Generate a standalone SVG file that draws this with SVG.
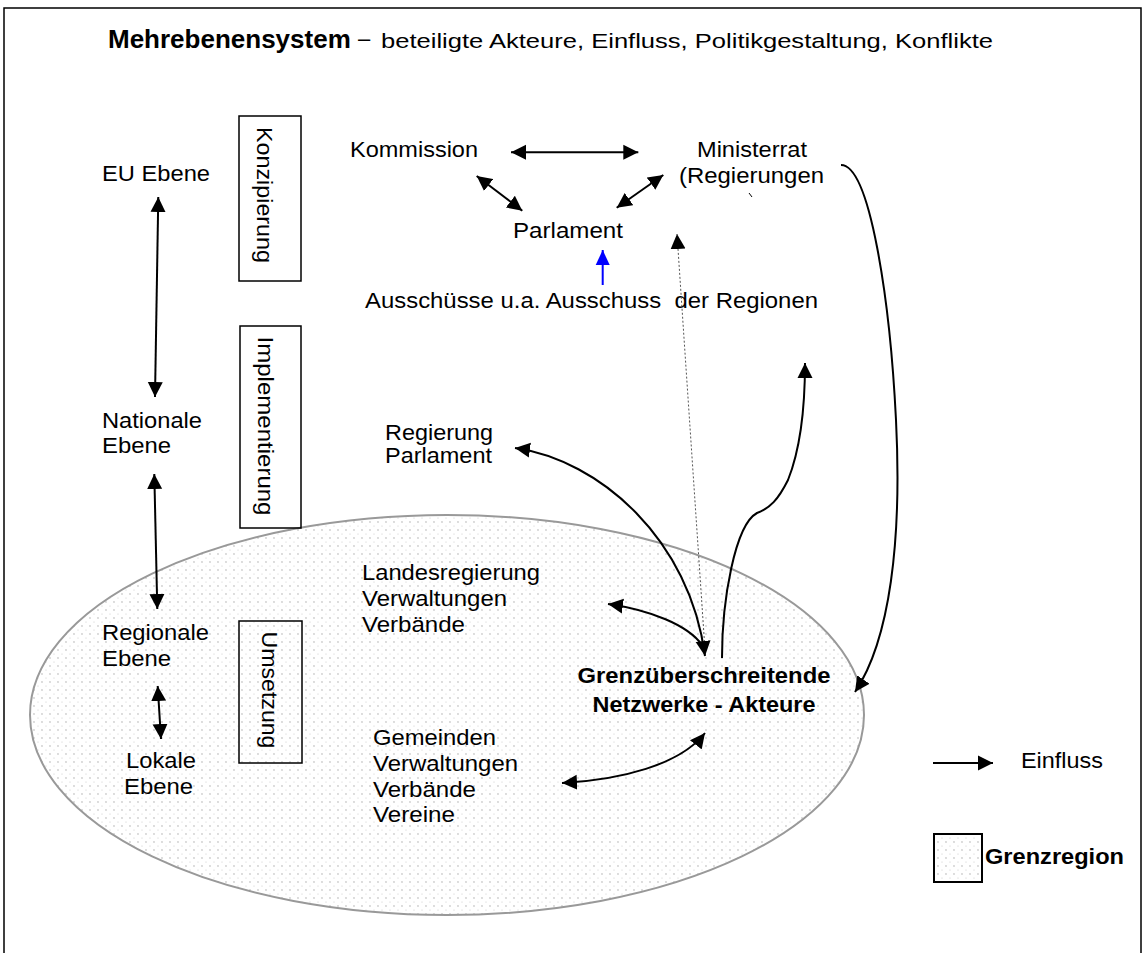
<svg xmlns="http://www.w3.org/2000/svg" width="1145" height="953" viewBox="0 0 1145 953">
<style>
text{font-family:"Liberation Sans",Arial,sans-serif;font-size:22px;fill:#000}
.b{font-weight:bold}
.ln{fill:none;stroke:#000;stroke-width:2}
.box{fill:none;stroke:#000;stroke-width:1.5}
</style>
<defs>
<pattern id="dots" width="8" height="8" patternUnits="userSpaceOnUse">
<rect width="8" height="8" fill="#fff"/>
<circle cx="2" cy="2" r="0.65" fill="#a0a0a0"/>
<circle cx="6" cy="6" r="0.55" fill="#c8c8c8"/>
</pattern>
<marker id="ah" markerUnits="userSpaceOnUse" markerWidth="16" markerHeight="16" refX="15" refY="8" orient="auto-start-reverse" viewBox="0 0 16 16">
<path d="M0,0.5 L15,8 L0,15.5 z" fill="#000"/>
</marker>
<marker id="ahb" markerUnits="userSpaceOnUse" markerWidth="16" markerHeight="16" refX="15" refY="8" orient="auto" viewBox="0 0 16 16">
<path d="M0,1 L15,8 L0,15 z" fill="#0000ff"/>
</marker>
</defs>
<rect width="1145" height="953" fill="#fff"/>
<g id="frame" fill="none" stroke="#000" stroke-width="1.5">
<path d="M4,953 V8 H1141 V953"/>
</g>
<g id="grenzregion"><ellipse cx="447" cy="715" rx="417" ry="200" fill="url(#dots)" stroke="#999" stroke-width="2"/></g>
<g id="title">
<text x="108" y="48" class="b" style="font-size:26px">Mehrebenensystem</text>
<text x="358" y="46" style="font-size:22px">–</text>
<text x="381" y="48" style="font-size:21px" textLength="612" lengthAdjust="spacingAndGlyphs">beteiligte Akteure, Einfluss, Politikgestaltung, Konflikte</text>
</g>
<g id="eu-ebene"><text x="102" y="181" textLength="108" lengthAdjust="spacingAndGlyphs">EU Ebene</text></g>
<g id="nationale-ebene"><text x="102" y="428" textLength="100" lengthAdjust="spacingAndGlyphs">Nationale</text><text x="102" y="453" textLength="69" lengthAdjust="spacingAndGlyphs">Ebene</text></g>
<g id="regionale-ebene"><text x="102" y="640" textLength="107" lengthAdjust="spacingAndGlyphs">Regionale</text><text x="102" y="666" textLength="69" lengthAdjust="spacingAndGlyphs">Ebene</text></g>
<g id="lokale-ebene"><text x="126" y="768" textLength="70" lengthAdjust="spacingAndGlyphs">Lokale</text><text x="124" y="794" textLength="69" lengthAdjust="spacingAndGlyphs">Ebene</text></g>
<g id="konzipierung"><rect class="box" x="239" y="116" width="62" height="165"/><text transform="translate(257,195) rotate(90)" text-anchor="middle" textLength="136" lengthAdjust="spacingAndGlyphs">Konzipierung</text></g>
<g id="implementierung"><rect class="box" x="240" y="326" width="61" height="202"/><text transform="translate(258,426) rotate(90)" text-anchor="middle" textLength="179" lengthAdjust="spacingAndGlyphs">Implementierung</text></g>
<g id="umsetzung"><rect class="box" x="239" y="621" width="63" height="142"/><text transform="translate(262,690) rotate(90)" text-anchor="middle" textLength="117" lengthAdjust="spacingAndGlyphs">Umsetzung</text></g>
<g id="kommission"><text x="350" y="157" textLength="128" lengthAdjust="spacingAndGlyphs">Kommission</text></g>
<g id="ministerrat"><text x="697" y="157" textLength="110" lengthAdjust="spacingAndGlyphs">Ministerrat</text><text x="679" y="183" textLength="145" lengthAdjust="spacingAndGlyphs">(Regierungen</text><path d="M749,193 L752,197" stroke="#000" stroke-width="1" fill="none"/></g>
<g id="parlament-eu"><text x="513" y="238" textLength="110" lengthAdjust="spacingAndGlyphs">Parlament</text></g>
<g id="ausschuesse"><text x="365" y="308" textLength="453" lengthAdjust="spacingAndGlyphs" xml:space="preserve">Ausschüsse u.a. Ausschuss  der Regionen</text></g>
<g id="regierung-parlament"><text x="385" y="440" textLength="108" lengthAdjust="spacingAndGlyphs">Regierung</text><text x="385" y="463" textLength="107" lengthAdjust="spacingAndGlyphs">Parlament</text></g>
<g id="landesregierung"><text x="362" y="580" textLength="178" lengthAdjust="spacingAndGlyphs">Landesregierung</text><text x="362" y="606" textLength="145" lengthAdjust="spacingAndGlyphs">Verwaltungen</text><text x="362" y="632" textLength="103" lengthAdjust="spacingAndGlyphs">Verbände</text></g>
<g id="gemeinden"><text x="373" y="745" textLength="123" lengthAdjust="spacingAndGlyphs">Gemeinden</text><text x="373" y="771" textLength="145" lengthAdjust="spacingAndGlyphs">Verwaltungen</text><text x="373" y="797" textLength="103" lengthAdjust="spacingAndGlyphs">Verbände</text><text x="373" y="822" textLength="82" lengthAdjust="spacingAndGlyphs">Vereine</text></g>
<g id="netzwerke"><text x="704" y="683" class="b" text-anchor="middle" textLength="253" lengthAdjust="spacingAndGlyphs">Grenzüberschreitende</text><text x="704" y="712" class="b" text-anchor="middle" textLength="223" lengthAdjust="spacingAndGlyphs">Netzwerke - Akteure</text></g>
<g id="legende">
<line class="ln" x1="933" y1="763" x2="993" y2="763" marker-end="url(#ah)"/>
<text x="1021" y="768" textLength="82" lengthAdjust="spacingAndGlyphs">Einfluss</text>
<rect x="934" y="834" width="48" height="48" fill="url(#dots)" stroke="#000" stroke-width="2"/>
<text x="985" y="864" class="b" textLength="139" lengthAdjust="spacingAndGlyphs">Grenzregion</text>
</g>
<g id="connectors">
<line class="ln" x1="158.3" y1="197" x2="155" y2="397" marker-start="url(#ah)" marker-end="url(#ah)"/>
<line class="ln" x1="154.3" y1="474" x2="157.3" y2="609" marker-start="url(#ah)" marker-end="url(#ah)"/>
<line class="ln" x1="157.7" y1="686" x2="161" y2="739" marker-start="url(#ah)" marker-end="url(#ah)"/>
<line class="ln" x1="511" y1="152.3" x2="638.3" y2="152.3" marker-start="url(#ah)" marker-end="url(#ah)"/>
<line class="ln" x1="476.7" y1="176" x2="522.3" y2="210.7" marker-start="url(#ah)" marker-end="url(#ah)"/>
<line class="ln" x1="663.3" y1="175" x2="616.7" y2="207.7" marker-start="url(#ah)" marker-end="url(#ah)"/>
<line x1="602.7" y1="285" x2="602.7" y2="250" stroke="#0000ff" stroke-width="2" marker-end="url(#ahb)"/>
<line x1="705" y1="650" x2="677" y2="234" stroke="#555" stroke-width="1" stroke-dasharray="2,2" marker-end="url(#ah)"/>
<path class="ln" d="M515,448 C600,460 690,540 705,656" marker-start="url(#ah)" marker-end="url(#ah)"/>
<path class="ln" d="M608,604 C650,610 688,625 702,645" marker-start="url(#ah)"/>
<path class="ln" d="M722,658 C722,600 735,525 757,513 C770,508 778,500 788,480 C800,450 805,410 805,363" marker-end="url(#ah)"/>
<path class="ln" d="M841,165 C870,165 890,300 896,420 C902,540 890,640 855,692" marker-end="url(#ah)"/>
<path class="ln" d="M562,783 C620,780 680,765 705,733" marker-start="url(#ah)" marker-end="url(#ah)"/>
</g>
</svg>
